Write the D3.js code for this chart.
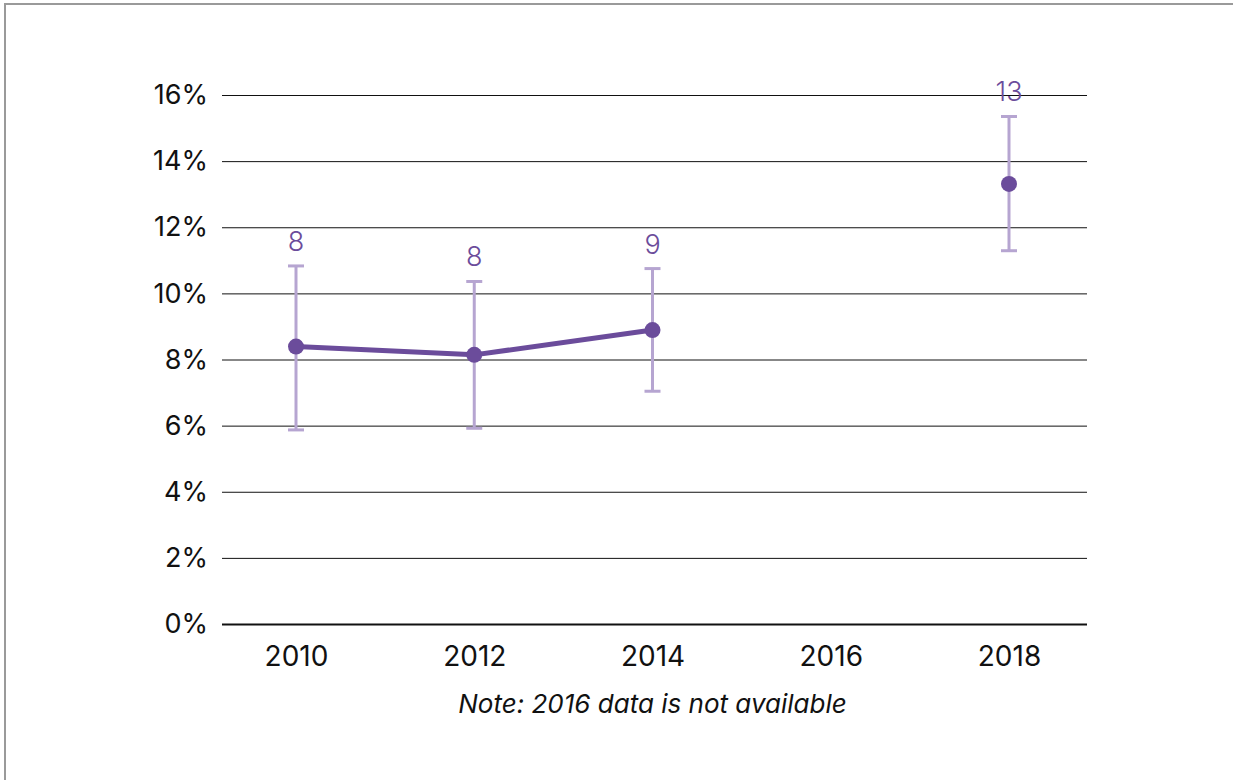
<!DOCTYPE html>
<html>
<head>
<meta charset="utf-8">
<script src="https://cdn.jsdelivr.net/npm/d3@7"></script>
<style>
  html, body { margin: 0; padding: 0; background: #fff; }
  svg { display: block; }
</style>
</head>
<body>
<svg id="chart" width="1233" height="780"></svg>
<script>
// Survey years and estimates (percent) with confidence bounds
const years = ["2010", "2012", "2014", "2016", "2018"];
const estimate = [8.39, 8.14, 8.89, null, 13.31];
const lower = [5.87, 5.92, 7.04, null, 11.29];
const upper = [10.83, 10.36, 10.75, null, 15.35];
const yTicks = [0, 2, 4, 6, 8, 10, 12, 14, 16];
const note = "Note: 2016 data is not available";

const purple = "#6b4c9b";
const lightPurple = "#b6a5d1";
const fontFamily = "Inter, 'Liberation Sans', Arial, sans-serif";

const svg = d3.select("#chart");

// frame around the figure
svg.append("rect")
  .attr("x", 5).attr("y", 4)
  .attr("width", 1240).attr("height", 800)
  .attr("fill", "none")
  .attr("stroke", "#9a9a9a")
  .attr("stroke-width", 2);

const gridLeft = 222, gridRight = 1087;
const x = d3.scalePoint().domain(years).range([296, 1009]);
const y = d3.scaleLinear().domain([0, 16]).range([624, 95]);

// horizontal gridlines with percent labels
const yAxis = d3.axisLeft(y)
  .tickValues(yTicks)
  .tickFormat(d => d + "%")
  .tickSize(-(gridRight - gridLeft))
  .tickPadding(14);

const gy = svg.append("g")
  .attr("transform", `translate(${gridLeft},0)`)
  .call(yAxis);
gy.select(".domain").remove();
gy.selectAll(".tick line")
  .attr("stroke", "#111")
  .attr("stroke-width", d => d === 0 ? 2 : 1);
gy.selectAll(".tick text")
  .attr("fill", "#111")
  .style("font-family", fontFamily)
  .style("font-size", "27px");

// year labels along the bottom
const xAxis = d3.axisBottom(x).tickSize(0).tickPadding(22);
const gx = svg.append("g")
  .attr("transform", `translate(0,${y(0)})`)
  .call(xAxis);
gx.select(".domain").remove();
gx.selectAll(".tick text")
  .attr("fill", "#111")
  .style("font-family", fontFamily)
  .style("font-size", "28px");

const data = years.map((yr, i) => ({
  year: yr, v: estimate[i], lo: lower[i], hi: upper[i]
})).filter(d => d.v !== null);

// error bars
const capHalf = 8;
const bars = svg.append("g")
  .attr("stroke", lightPurple)
  .attr("stroke-width", 3)
  .attr("fill", "none");
data.forEach(d => {
  const cx = x(d.year);
  bars.append("line").attr("x1", cx).attr("x2", cx).attr("y1", y(d.hi)).attr("y2", y(d.lo));
  bars.append("line").attr("x1", cx - capHalf).attr("x2", cx + capHalf).attr("y1", y(d.hi)).attr("y2", y(d.hi));
  bars.append("line").attr("x1", cx - capHalf).attr("x2", cx + capHalf).attr("y1", y(d.lo)).attr("y2", y(d.lo));
});

// trend line across consecutive available years (broken at the gap)
const line = d3.line()
  .defined(d => d.v !== null)
  .x(d => x(d.year))
  .y(d => y(d.v));
svg.append("path")
  .datum(years.map((yr, i) => ({ year: yr, v: estimate[i] })))
  .attr("d", line)
  .attr("fill", "none")
  .attr("stroke", purple)
  .attr("stroke-width", 5)
  .attr("stroke-linejoin", "round");

// points
svg.append("g").selectAll("circle")
  .data(data)
  .join("circle")
  .attr("cx", d => x(d.year))
  .attr("cy", d => y(d.v))
  .attr("r", 8)
  .attr("fill", purple);

// rounded value labels above the upper bound
svg.append("g").selectAll("text")
  .data(data)
  .join("text")
  .attr("x", d => x(d.year))
  .attr("y", d => y(d.hi) - 15)
  .attr("text-anchor", "middle")
  .attr("fill", purple)
  .style("font-family", "Inter, Roboto, sans-serif")
  .style("font-weight", 300)
  .style("font-size", "27px")
  .text(d => Math.round(d.v));

// footnote
svg.append("text")
  .attr("x", (x.range()[0] + x.range()[1]) / 2)
  .attr("y", 713)
  .attr("text-anchor", "middle")
  .attr("fill", "#111")
  .style("font-family", fontFamily)
  .style("font-style", "italic")
  .style("font-size", "26px")
  .text(note);
</script>
</body>
</html>
